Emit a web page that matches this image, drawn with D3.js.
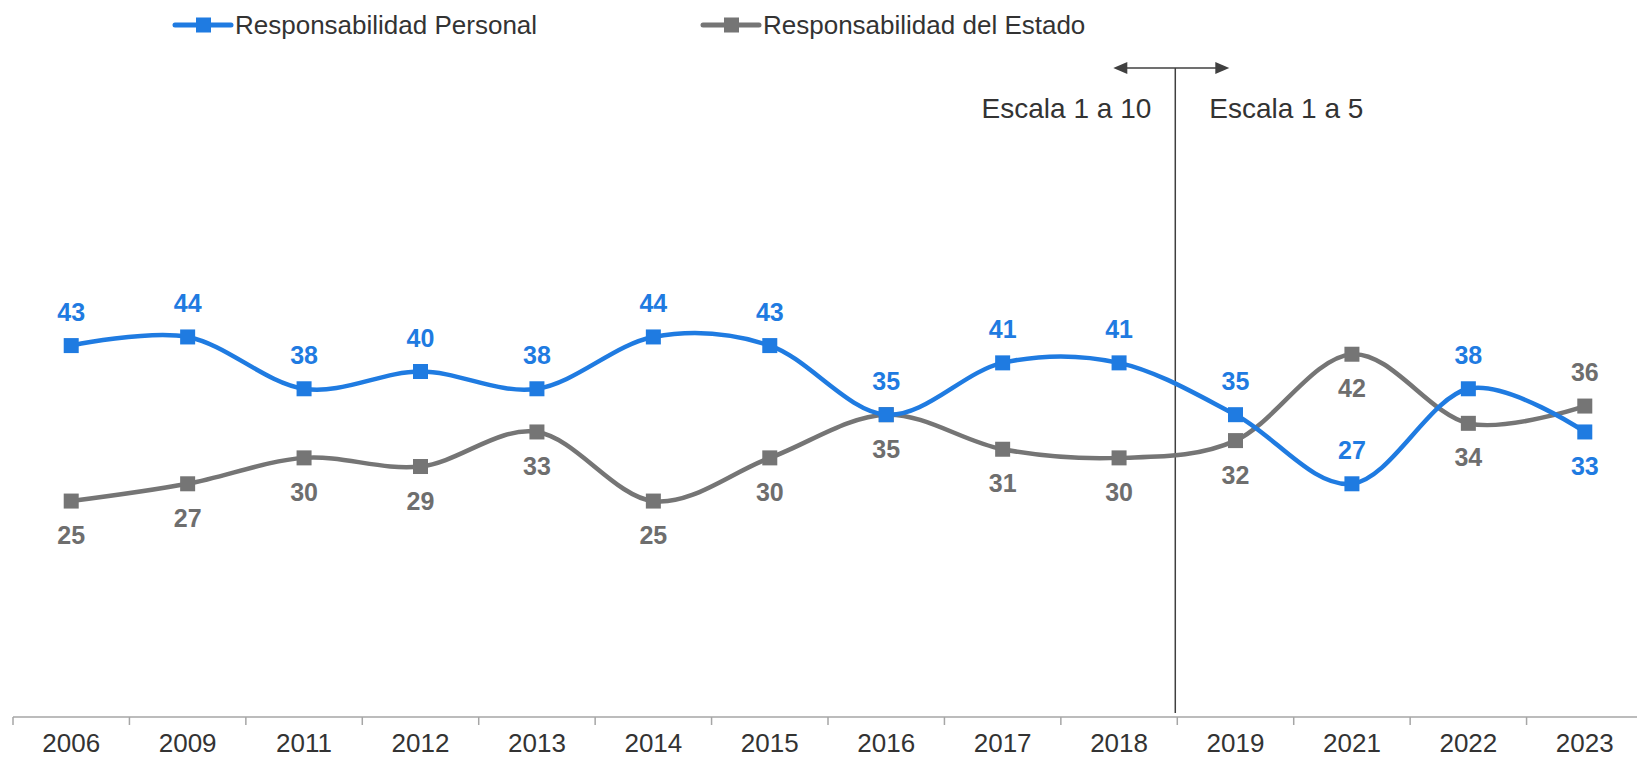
<!DOCTYPE html>
<html>
<head>
<meta charset="utf-8">
<script src="https://cdn.jsdelivr.net/npm/d3@7"></script>
<style>
  body { margin: 0; background: #fff; }
  svg { display: block; font-family: "Liberation Sans", Arial, sans-serif; }
</style>
</head>
<body>
<svg id="chart" width="1637" height="759"></svg>
<script>
// data
const years = ["2006", "2009", "2011", "2012", "2013", "2014", "2015", "2016", "2017", "2018", "2019", "2021", "2022", "2023"];
const personal = [43, 44, 38, 40, 38, 44, 43, 35, 41, 41, 35, 27, 38, 33];
const estado = [25, 27, 30, 29, 33, 25, 30, 35, 31, 30, 32, 42, 34, 36];
const seriesNames = ["Responsabilidad Personal", "Responsabilidad del Estado"];
const blueBelow = ["2023"];   // labels drawn under the point
const grayAbove = ["2023"];   // labels drawn over the point
const scaleSplit = "2019";
const scaleNotes = ["Escala 1 a 10", "Escala 1 a 5"];

const blue = "#1f7be1", gray = "#757575";

let svg = d3.select("#chart");

let x = d3.scaleBand().domain(years).range([13, 1643]);
let y = d3.scaleLinear().domain([0, 80]).range([717, 26]);
let cx = d => x(d) + x.bandwidth() / 2;

// axis
let axis = svg.append("g").attr("transform", "translate(0,717)");
axis.append("line")
  .attr("x1", 13).attr("x2", 1637)
  .attr("stroke", "#a6a6a6").attr("stroke-width", 1.5);
axis.selectAll(".tick-b")
  .data(years)
  .enter()
  .append("line")
  .attr("x1", d => x(d)).attr("x2", d => x(d))
  .attr("y1", 0).attr("y2", 8)
  .attr("stroke", "#a6a6a6").attr("stroke-width", 1.5);
axis.selectAll(".lbl")
  .data(years)
  .enter()
  .append("text")
  .attr("x", d => cx(d))
  .attr("y", 35)
  .attr("text-anchor", "middle")
  .style("font-size", "26px")
  .style("fill", "#333")
  .text(d => d);

// scale change marker
let splitX = x(scaleSplit) - 2;
svg.append("line")
  .attr("x1", splitX).attr("x2", splitX)
  .attr("y1", 68).attr("y2", 713)
  .attr("stroke", "#404040").attr("stroke-width", 1.5);
svg.append("line")
  .attr("x1", splitX - 52).attr("x2", splitX + 44)
  .attr("y1", 68).attr("y2", 68)
  .attr("stroke", "#404040").attr("stroke-width", 1.5);
svg.append("path")
  .attr("d", `M${splitX - 62},68 L${splitX - 48},62 L${splitX - 48},74 Z`)
  .attr("fill", "#404040");
svg.append("path")
  .attr("d", `M${splitX + 54},68 L${splitX + 40},62 L${splitX + 40},74 Z`)
  .attr("fill", "#404040");
svg.append("text")
  .attr("x", splitX - 24).attr("y", 118)
  .attr("text-anchor", "end")
  .style("font-size", "28px").style("fill", "#333")
  .text(scaleNotes[0]);
svg.append("text")
  .attr("x", splitX + 34).attr("y", 118)
  .style("font-size", "28px").style("fill", "#333")
  .text(scaleNotes[1]);

// lines
let line = d3.line()
  .x(d => cx(d.year))
  .y(d => y(d.v))
  .curve(d3.curveCardinal.tension(0));

let series = [
  { name: seriesNames[0], color: blue, values: years.map((yr, i) => ({ year: yr, v: personal[i] })) },
  { name: seriesNames[1], color: gray, values: years.map((yr, i) => ({ year: yr, v: estado[i] })) }
];

// draw gray first, then blue on top
[series[1], series[0]].forEach(s => {
  svg.append("path")
    .datum(s.values)
    .attr("d", line)
    .attr("fill", "none")
    .attr("stroke", s.color)
    .attr("stroke-width", 4.5);
  svg.selectAll(null)
    .data(s.values)
    .enter()
    .append("rect")
    .attr("x", d => cx(d.year) - 7.5)
    .attr("y", d => y(d.v) - 7.5)
    .attr("width", 15).attr("height", 15)
    .attr("fill", s.color);
});

// value labels
svg.selectAll(".lab-p")
  .data(series[0].values)
  .enter()
  .append("text")
  .attr("x", d => cx(d.year))
  .attr("y", d => blueBelow.includes(d.year) ? y(d.v) + 43 : y(d.v) - 25)
  .attr("text-anchor", "middle")
  .style("font-size", "25px").style("font-weight", "bold")
  .style("fill", blue)
  .text(d => d.v);
svg.selectAll(".lab-e")
  .data(series[1].values)
  .enter()
  .append("text")
  .attr("x", d => cx(d.year))
  .attr("y", d => grayAbove.includes(d.year) ? y(d.v) - 25 : y(d.v) + 43)
  .attr("text-anchor", "middle")
  .style("font-size", "25px").style("font-weight", "bold")
  .style("fill", "#6e6e6e")
  .text(d => d.v);

// legend
let legendX = [175, 703];
series.forEach((s, i) => {
  let g = svg.append("g").attr("transform", `translate(${legendX[i]},25)`);
  g.append("line")
    .attr("x1", 0).attr("x2", 56)
    .attr("stroke", s.color).attr("stroke-width", 5)
    .attr("stroke-linecap", "round");
  g.append("rect")
    .attr("x", 21).attr("y", -7.5)
    .attr("width", 15).attr("height", 15)
    .attr("fill", s.color);
  g.append("text")
    .attr("x", 60).attr("y", 9)
    .style("font-size", "26px").style("fill", "#333")
    .text(s.name);
});
</script>
</body>
</html>
